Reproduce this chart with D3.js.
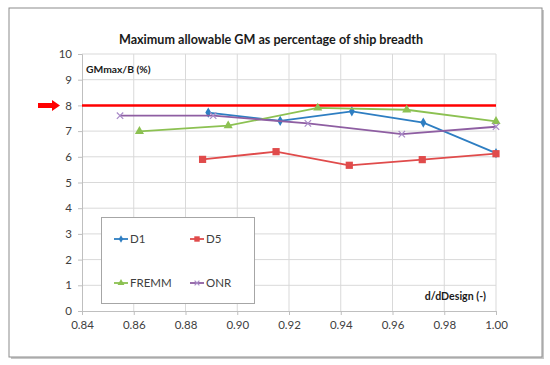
<!DOCTYPE html>
<html><head><meta charset="utf-8">
<script src="https://cdn.jsdelivr.net/npm/d3@7"></script>
<style>
html,body{margin:0;padding:0;background:#fff;}
svg{display:block;font-family:Lato,"Open Sans",sans-serif;}
</style></head>
<body><svg id="c" width="550" height="365"></svg>
<script>
const xTicks = [0.84,0.86,0.88,0.90,0.92,0.94,0.96,0.98,1.00];
const yTicks = [0,1,2,3,4,5,6,7,8,9,10];
const d1X = [0.8888,0.9166,0.9443,0.9719,1.0];
const d1Y = [7.72,7.40,7.77,7.33,6.14];
const d5X = [0.8866,0.9150,0.9433,0.9715,1.0];
const d5Y = [5.90,6.20,5.67,5.89,6.12];
const fremmX = [0.8622,0.8965,0.9311,0.9655,1.0];
const fremmY = [6.99,7.21,7.90,7.83,7.38];
const onrX = [0.8547,0.8907,0.9273,0.9636,1.0];
const onrY = [7.60,7.60,7.30,6.88,7.17];
const limitY = 8;
const seriesNames = ["D1","D5","FREMM","ONR"];
const seriesColors = ["#2e7ec2","#e04b4b","#8cc152","#8e5ea2"];

const svg = d3.select("#c");
// outer frame with shadow
svg.append("rect").attr("x",11).attr("y",10).attr("width",533).attr("height",349).attr("fill","#c8c8c8");
svg.append("rect").attr("x",9).attr("y",8).attr("width",533).attr("height",349).attr("fill","#fff").attr("stroke","#8c8c8c").attr("stroke-width",1);

const x = d3.scaleLinear().domain([0.84,1.0]).range([82,496]);
const y = d3.scaleLinear().domain([0,10]).range([311,54]);

// gridlines
svg.append("g").selectAll("line").data(xTicks.slice(1)).join("line")
  .attr("x1",d=>x(d)).attr("x2",d=>x(d)).attr("y1",y(10)).attr("y2",y(0))
  .attr("stroke","#d9d9d9").attr("stroke-width",1);
svg.append("g").selectAll("line").data(yTicks.slice(1)).join("line")
  .attr("x1",x(0.84)).attr("x2",x(1.0)).attr("y1",d=>y(d)).attr("y2",d=>y(d))
  .attr("stroke","#d9d9d9").attr("stroke-width",1);

// axes
const xAxis = svg.append("g").attr("transform",`translate(0,${y(0)})`)
  .call(d3.axisBottom(x).tickValues(xTicks).tickFormat(d3.format(".2f")).tickSize(4).tickPadding(6));
const yAxis = svg.append("g").attr("transform",`translate(${x(0.84)},0)`)
  .call(d3.axisLeft(y).tickValues(yTicks).tickFormat(d3.format("d")).tickSize(4).tickPadding(6));
[xAxis,yAxis].forEach(a=>{
  a.selectAll("path,line").attr("stroke","#bfbfbf");
  a.selectAll("text").attr("fill","#404040").style("font-size","11.5px").style("font-family","Lato,'Open Sans',sans-serif");
});

// title & labels
svg.append("text").attr("x",271).attr("y",44).attr("text-anchor","middle")
  .style("font-size","12.6px").style("font-weight","bold").attr("fill","#1a1a1a")
  .text("Maximum allowable GM as percentage of ship breadth");
svg.append("text").attr("x",86).attr("y",73)
  .style("font-size","10.3px").style("font-weight","bold").attr("fill","#1a1a1a")
  .text("GMmax/B (%)");
svg.append("text").attr("x",486).attr("y",300).attr("text-anchor","end")
  .style("font-size","10.6px").style("font-weight","bold").attr("fill","#1a1a1a")
  .text("d/dDesign (-)");

// limit line
svg.append("line").attr("x1",x(0.84)).attr("x2",x(1.0)).attr("y1",y(limitY)).attr("y2",y(limitY))
  .attr("stroke","#ff0000").attr("stroke-width",2.5);
// arrow
const ay = y(limitY);
svg.append("path").attr("d",`M38,${ay-2.5} L52,${ay-2.5} L52,${ay-5.5} L60,${ay} L52,${ay+5.5} L52,${ay+2.5} L38,${ay+2.5} Z`).attr("fill","#ff0000");

// series
const series = [
  {xs:d1X, ys:d1Y, m:"diamond"},
  {xs:d5X, ys:d5Y, m:"square"},
  {xs:fremmX, ys:fremmY, m:"triangle"},
  {xs:onrX, ys:onrY, m:"cross"}
];
const line = d3.line().x(d=>x(d[0])).y(d=>y(d[1]));
function marker(g, type, cx, cy, color, s){
  s = s || 1;
  if(type==="diamond"){
    g.append("path").attr("d",d3.symbol(d3.symbolDiamond,30*s*s)()).attr("transform",`translate(${cx},${cy})`).attr("fill",color);
  } else if(type==="square"){
    const h = 3.6*s;
    g.append("rect").attr("x",cx-h).attr("y",cy-h).attr("width",2*h).attr("height",2*h).attr("fill",color);
  } else if(type==="triangle"){
    g.append("path").attr("d",d3.symbol(d3.symbolTriangle,36*s*s)()).attr("transform",`translate(${cx},${cy})`).attr("fill",color);
  } else {
    const h = 3.2*s;
    g.append("path").attr("d",`M${cx-h},${cy-h}L${cx+h},${cy+h}M${cx-h},${cy+h}L${cx+h},${cy-h}`).attr("stroke","#a98bc8").attr("stroke-width",1.2);
  }
}
series.forEach((s,i)=>{
  const pts = s.xs.map((v,j)=>[v,s.ys[j]]);
  const g = svg.append("g");
  g.append("path").datum(pts).attr("d",line).attr("fill","none").attr("stroke",seriesColors[i]).attr("stroke-width",1.8);
  pts.forEach(p=>marker(g,s.m,x(p[0]),y(p[1]),seriesColors[i]));
});

// legend
const lg = svg.append("g");
lg.append("rect").attr("x",101.5).attr("y",217.5).attr("width",153).attr("height",86).attr("fill","#fff").attr("stroke","#a6a6a6");
const lpos = [[114,239],[190,239],[114,283],[190,283]];
seriesNames.forEach((n,i)=>{
  const [lx,ly] = lpos[i];
  lg.append("line").attr("x1",lx).attr("x2",lx+14).attr("y1",ly).attr("y2",ly).attr("stroke",seriesColors[i]).attr("stroke-width",1.8);
  marker(lg,series[i].m,lx+7,ly,seriesColors[i],0.75);
  lg.append("text").attr("x",lx+16).attr("y",ly+4).style("font-size","11.5px").attr("fill","#404040").text(n);
});
</script></body></html>
